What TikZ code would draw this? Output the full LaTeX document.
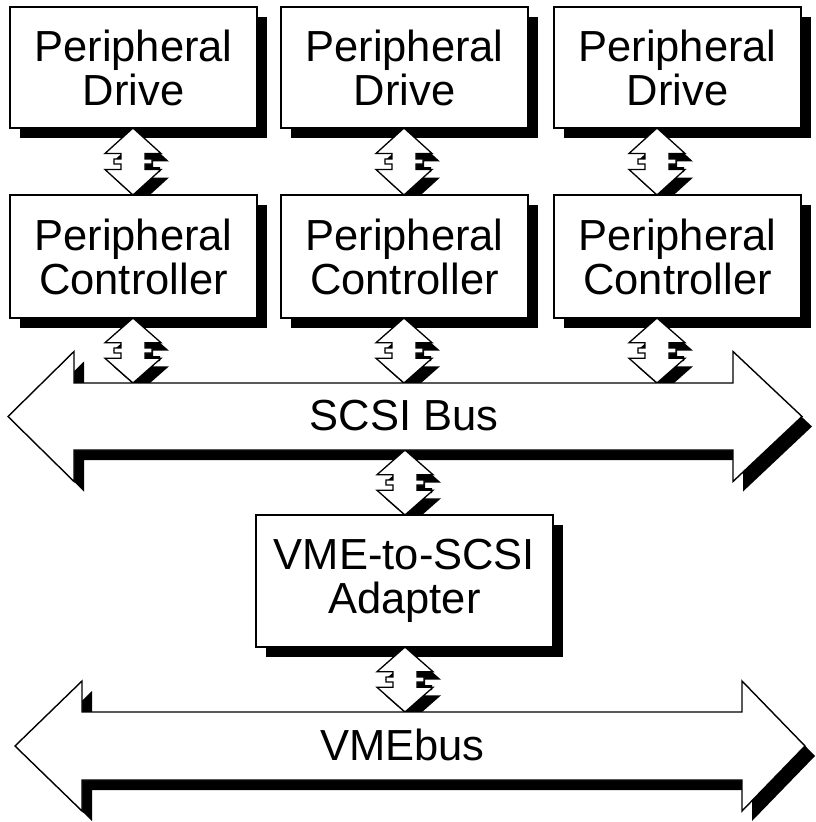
\documentclass[tikz,border=0pt]{standalone}
\usepackage{fontspec}
\setmainfont{Liberation Sans}
\usetikzlibrary{calc}

\pgfdeclarelayer{shade}
\pgfdeclarelayer{links}
\pgfdeclarelayer{bodies}
\pgfsetlayers{shade,links,bodies,main}

\tikzset{
  box/.style={draw, line width=1.4pt, fill=white, minimum width=247pt,
    minimum height=121pt, inner sep=0pt, outer sep=0pt, align=center,
    font=\fontsize{43.5}{44}\selectfont},
  busshaft/.style={minimum height=67pt, inner sep=0pt, outer sep=0pt},
  buslabel/.style={inner sep=0pt, font=\fontsize{43.5}{44}\selectfont},
  busshadow/.style={fill=black},
  busbody/.style={fill=white, draw=black, line width=1.4pt, line join=miter},
  linkshadow/.style={fill=black},
  linkbody/.style={fill=white, draw=black, line width=1.3pt, line join=miter},
}

% wide double-headed bus arrow around a shaft node:
% #1 shaft node, #2 left head length, #3 right head length, #4 head overhang
\newcommand\busarrow[4]{%
  \foreach \dx/\dy/\lay/\sty in {10pt/-10pt/shade/busshadow, 0pt/0pt/bodies/busbody}{
    \begin{pgfonlayer}{\lay}
    \path[\sty] let \p1=(#1.north west), \p2=(#1.south east), \p3=(#1.center) in
      (\x1+\dx,\y1+\dy) -- (\x1+\dx,\y1+#4+\dy) -- (\x1-#2+\dx,\y3+\dy)
      -- (\x1+\dx,\y2-#4+\dy) -- (\x1+\dx,\y2+\dy) -- (\x2+\dx,\y2+\dy)
      -- (\x2+\dx,\y2-#4+\dy) -- (\x2+#3+\dx,\y3+\dy)
      -- (\x2+\dx,\y1+#4+\dy) -- (\x2+\dx,\y1+\dy) -- cycle;
    \end{pgfonlayer}
  }%
}

% short double-headed link arrow with a shadow, from point #1 down to point #2;
% the short shaft carries a small tooth on each side
\newcommand\linkarrow[2]{%
  \begin{pgfonlayer}{links}
  \foreach \dx/\dy/\sty in {8pt/-8pt/linkshadow, 0pt/0pt/linkbody}{
    \path[\sty] let \p1=#1, \p2=#2, \n1={0.38*(\y1-\y2)}, \n2={(\y1+\y2)/2} in
      (\x1+\dx,\y1+\dy)
      -- (\x1+28pt+\dx,\y1-\n1+\dy) -- (\x1+12pt+\dx,\y1-\n1+\dy)
      -- (\x1+12pt+\dx,\n2+2.5+\dy) -- (\x1+19pt+\dx,\n2+2.5+\dy)
      -- (\x1+19pt+\dx,\n2-2.5+\dy) -- (\x1+12pt+\dx,\n2-2.5+\dy)
      -- (\x1+12pt+\dx,\y2+\n1+\dy)
      -- (\x1+28pt+\dx,\y2+\n1+\dy) -- (\x1+\dx,\y2+\dy)
      -- (\x1-28pt+\dx,\y2+\n1+\dy) -- (\x1-12pt+\dx,\y2+\n1+\dy)
      -- (\x1-12pt+\dx,\n2-2.5+\dy) -- (\x1-19pt+\dx,\n2-2.5+\dy)
      -- (\x1-19pt+\dx,\n2+2.5+\dy) -- (\x1-12pt+\dx,\n2+2.5+\dy)
      -- (\x1-12pt+\dx,\y1-\n1+\dy)
      -- (\x1-28pt+\dx,\y1-\n1+\dy) -- cycle;
  }%
  \end{pgfonlayer}%
}

\begin{document}
\begin{tikzpicture}[x=1pt, y=-1pt]
  \useasboundingbox (0,0) rectangle (816,822);

  % columns of the link arrows
  \coordinate (k1) at (133,0);
  \coordinate (k2) at (404,0);
  \coordinate (k3) at (657,0);
  \coordinate (k4) at (405,0);

  % drives
  \node[box] (d1) at (133.5,67.5) {Peripheral\\Drive};
  \node[box] (d2) at (404.5,67.5) {Peripheral\\Drive};
  \node[box] (d3) at (677.5,67.5) {Peripheral\\Drive};

  % controllers
  \node[box, minimum height=123pt] (c1) at (133.5,256.5) {Peripheral\\Controller};
  \node[box, minimum height=123pt] (c2) at (404.5,256.5) {Peripheral\\Controller};
  \node[box, minimum height=123pt] (c3) at (677.5,256.5) {Peripheral\\Controller};

  % adapter
  \node[box, minimum width=297pt, minimum height=132pt] (ad) at (404.5,581) {VME-to-SCSI\\Adapter};

  % buses
  \node[busshaft, minimum width=659pt] (scsi) at (403.5,416.5) {};
  \node[buslabel] (scsilabel) at (404,416) {SCSI Bus};
  \node[busshaft, minimum width=660pt, minimum height=68pt] (vme) at (412,746) {};
  \node[buslabel] (vmelabel) at (402.5,745) {VMEbus};

  % box shadows
  \begin{pgfonlayer}{shade}
    \foreach \b in {d1,d2,d3,c1,c2,c3,ad}
      \fill[black] ([shift={(10pt,-10pt)}]\b.south west)
        rectangle ([shift={(10pt,-10pt)}]\b.north east);
  \end{pgfonlayer}

  \busarrow{scsi}{66pt}{69pt}{31.5pt}
  \busarrow{vme}{67pt}{63pt}{31pt}

  % links
  \linkarrow{(k1 |- d1.south)}{(k1 |- c1.north)}
  \linkarrow{(k2 |- d2.south)}{(k2 |- c2.north)}
  \linkarrow{(k3 |- d3.south)}{(k3 |- c3.north)}
  \linkarrow{(k1 |- c1.south)}{(k1 |- scsi.north)}
  \linkarrow{(k2 |- c2.south)}{(k2 |- scsi.north)}
  \linkarrow{(k3 |- c3.south)}{(k3 |- scsi.north)}
  \linkarrow{(k4 |- scsi.south)}{(k4 |- ad.north)}
  \linkarrow{(k4 |- ad.south)}{(k4 |- vme.north)}
\end{tikzpicture}
\end{document}
